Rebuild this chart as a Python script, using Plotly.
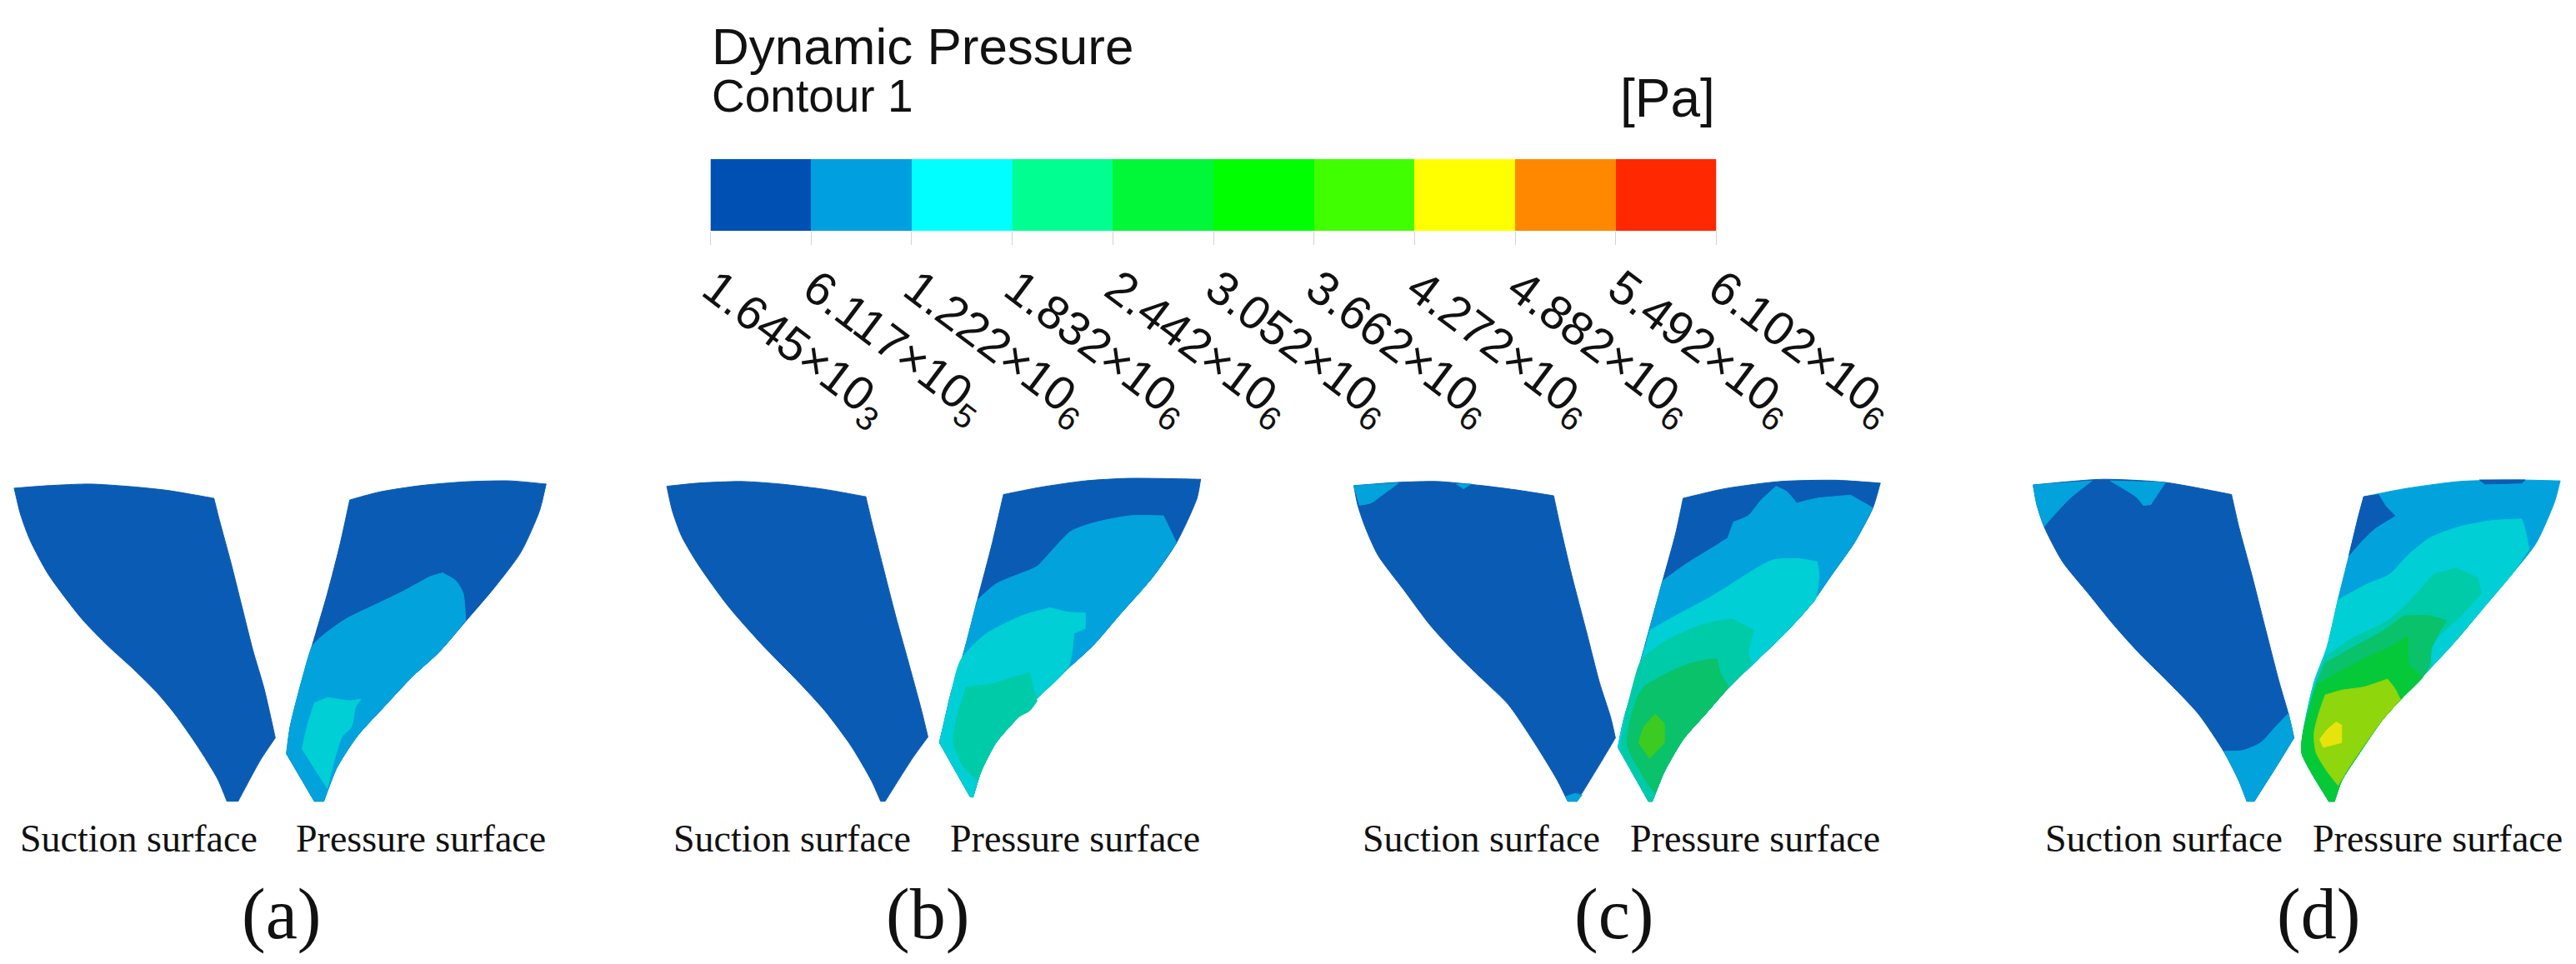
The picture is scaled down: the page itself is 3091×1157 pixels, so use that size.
import math
import plotly.graph_objects as go

W, H = 3091, 1157

# Legend
title_text = "Dynamic Pressure"
subtitle_text = "Contour 1"
unit_text = "[Pa]"
level_values = [1.645e3, 6.117e5, 1.222e6, 1.832e6, 2.442e6, 3.052e6, 3.662e6, 4.272e6, 4.882e6, 5.492e6, 6.102e6]
level_labels = ["1.645×10<sub>3</sub>", "6.117×10<sub>5</sub>", "1.222×10<sub>6</sub>", "1.832×10<sub>6</sub>",
                "2.442×10<sub>6</sub>", "3.052×10<sub>6</sub>", "3.662×10<sub>6</sub>", "4.272×10<sub>6</sub>",
                "4.882×10<sub>6</sub>", "5.492×10<sub>6</sub>", "6.102×10<sub>6</sub>"]
level_colors = ["#0050B4", "#00A0E0", "#00FFFF", "#00FF90", "#00F838", "#00FF00", "#40FF00", "#FFFF00", "#FF8800", "#FF2800"]

# Rendered contour shades
C_DARK = "#0A5BB4"
C_MID = "#02A3DC"
C_TEAL = "#00CFD6"
C_SEA = "#00CBA8"
C_GREEN1 = "#0AC26A"
C_GREEN2 = "#06C93A"
C_BRIGHT = "#3CCB20"
C_LIME = "#8FD60C"
C_YELLOW = "#E6E40C"

panel_labels = ["(a)", "(b)", "(c)", "(d)"]
suction_label = "Suction surface"
pressure_label = "Pressure surface"

# Outlines and contour bands, in each panel's own reading coordinates (0-1568)
a_suction = [(38,68),(130,60),(240,55),(340,62),(450,75),(575,100),(590,170),(620,300),(650,440),(680,580),(710,700),(740,855),(700,925),(640,1055),(610,1055),(585,985),(530,880),(470,780),(420,710),(360,640),(290,565),(220,480),(130,340),(80,230),(55,150)]
a_pressure = [(940,105),(1020,80),(1130,60),(1250,48),(1370,45),(1468,55),(1450,140),(1400,270),(1330,380),(1250,490),(1180,585),(1110,660),(1030,760),(960,850),(905,950),(870,1055),(845,1055),(770,905),(780,820),(810,680),(840,560),(880,400),(915,240)]
a_mid = [(840,565),(870,530),(930,480),(1000,440),(1080,395),(1160,345),(1190,335),(1225,360),(1245,400),(1252,485),(1180,585),(1110,660),(1030,760),(960,850),(905,950),(870,1055),(845,1055),(770,905),(780,820),(810,680)]
a_teal = [(845,745),(880,728),(940,738),(970,733),(955,760),(945,820),(920,850),(900,920),(880,1015),(850,960),(812,890),(825,820)]

b_suction = [(45,62),(130,52),(250,47),(350,55),(470,72),(580,95),(595,170),(625,310),(660,470),(700,640),(730,770),(747,852),(705,920),(632,1055),(620,1055),(595,990),(540,880),(470,770),(400,680),(300,560),(210,440),(130,310),(85,220),(60,140)]
b_pressure = [(950,88),(1050,65),(1170,45),(1290,37),(1480,40),(1470,100),(1415,240),(1350,350),(1260,470),(1190,565),(1120,640),(1050,720),(990,790),(930,870),(890,960),(868,1042),(860,1040),(778,870),(790,810),(810,710),(840,600),(880,420),(920,240)]
b_mid = [(880,420),(930,370),(1000,335),(1040,315),(1080,265),(1130,205),(1190,178),(1290,155),(1380,155),(1415,240),(1350,350),(1260,470),(1190,565),(1120,640),(1050,720),(990,790),(930,870),(890,960),(868,1042),(860,1040),(778,870),(790,810),(810,710),(840,600)]
b_teal = [(835,610),(900,530),(1000,470),(1075,445),(1120,458),(1170,462),(1170,510),(1140,525),(1125,630),(1050,720),(990,790),(930,870),(890,960),(868,1042),(860,1040),(778,870),(790,810),(810,710)]
b_sea = [(850,695),(920,685),(960,670),(1020,650),(1030,700),(1040,740),(1020,770),(990,790),(930,870),(890,960),(880,990),(845,950),(815,870),(825,790)]

c_suction = [(55,60),(170,50),(280,47),(400,60),(500,75),(592,92),(610,190),(640,340),(680,520),(715,680),(745,790),(758,855),(720,930),(655,1055),(630,1055),(600,985),(540,870),(470,750),(400,670),(330,590),(260,500),(190,390),(120,280),(85,190),(65,120)]
c_patch_left = [(55,60),(175,52),(125,95),(100,115),(70,122)]
c_patch_top = [(330,55),(370,55),(350,70)]
c_patch_tip = [(630,1055),(625,1040),(650,1030),(668,1035),(655,1055)]
c_pressure = [(940,100),(1050,70),(1200,47),(1350,43),(1470,52),(1450,130),(1400,240),(1340,340),(1280,440),(1210,530),(1130,620),(1060,700),(1000,780),(940,860),(890,960),(857,1055),(847,1055),(765,885),(780,800),(810,680),(850,510),(885,360),(920,210)]
c_mid = [(885,360),(950,305),(1020,255),(1060,225),(1075,175),(1115,155),(1150,105),(1190,62),(1220,80),(1245,115),(1300,100),(1390,90),(1450,130),(1400,240),(1340,340),(1280,440),(1210,530),(1130,620),(1060,700),(1000,780),(940,860),(890,960),(857,1055),(847,1055),(765,885),(780,800),(810,680),(850,510)]
c_teal = [(852,515),(920,470),(1000,420),(1050,385),(1110,340),(1180,295),(1250,290),(1300,300),(1305,340),(1295,420),(1280,440),(1210,530),(1130,620),(1060,700),(1000,780),(940,860),(890,960),(857,1055),(847,1055),(765,885),(780,800),(810,680)]
c_sea = [(828,610),(900,545),(1000,495),(1070,480),(1130,515),(1115,590),(1125,620),(1060,700),(1000,780),(940,860),(890,960),(857,1055),(847,1055),(770,895),(785,790),(805,690)]
c_green = [(840,690),(900,650),(960,620),(1030,605),(1040,650),(1062,695),(1000,780),(940,860),(890,960),(865,1030),(840,990),(790,880),(800,790),(820,720)]
c_bright = [(865,780),(890,810),(890,870),(850,920),(820,870),(835,820)]

d_suction = [(90,58),(180,48),(280,40),(450,50),(630,88),(650,190),(685,340),(720,500),(760,680),(785,780),(800,855),(755,940),(692,1055),(672,1055),(650,990),(610,900),(540,780),(450,670),(380,590),(310,500),(240,400),(170,300),(120,190),(100,120)]
d_patch_left = [(90,58),(250,45),(190,100),(130,175),(120,190),(100,120)]
d_patch_top = [(300,45),(450,50),(430,85),(410,120),(390,122),(370,95)]
d_patch_tip = [(610,897),(660,895),(710,870),(750,820),(785,778),(800,855),(755,940),(692,1055),(672,1055),(650,990)]
d_pressure = [(990,95),(1100,70),(1250,47),(1400,42),(1525,45),(1510,110),(1460,240),(1400,330),(1320,440),(1240,550),(1160,650),(1090,735),(1040,800),(980,900),(930,990),(910,1055),(895,1055),(822,905),(825,840),(855,680),(890,570),(920,420),(950,280),(975,160)]
d_dark_corner = [(990,95),(1030,88),(1050,125),(1075,155),(1020,195),(980,240),(950,280),(975,160)]
d_dark_top = [(1305,42),(1430,42),(1420,52),(1320,55)]
d_teal = [(920,420),(1000,370),(1060,340),(1110,280),(1170,225),(1250,190),(1340,170),(1420,165),(1430,200),(1440,260),(1400,330),(1320,440),(1240,550),(1160,650),(1090,735),(1040,800),(980,900),(930,990),(910,1055),(895,1055),(822,905),(825,840),(855,680),(890,570)]
d_sea = [(885,600),(960,540),(1050,490),(1110,430),(1180,340),(1240,320),(1300,350),(1310,400),(1255,470),(1190,540),(1170,590),(1175,625),(1160,650),(1090,735),(1040,800),(980,900),(930,990),(910,1055),(895,1055),(822,905),(825,840),(860,680)]
d_green1 = [(885,620),(960,570),(1040,520),(1100,470),(1170,470),(1215,485),(1195,525),(1175,570),(1170,620),(1150,665),(1090,735),(1040,800),(980,900),(930,990),(910,1055),(895,1055),(822,905),(825,840),(860,690)]
d_green2 = [(860,690),(920,650),(1000,600),(1060,570),(1110,535),(1110,620),(1150,665),(1090,735),(1040,800),(980,900),(930,990),(910,1055),(895,1055),(822,905),(825,840)]
d_lime = [(885,720),(930,705),(990,695),(1055,670),(1075,700),(1090,735),(1040,800),(990,880),(960,930),(920,1005),(890,960),(860,900),(855,840),(870,770)]
d_yellow = [(915,805),(930,815),(930,870),(880,885),(870,860),(890,830)]

panels = [
    [(a_suction, C_DARK), (a_pressure, C_DARK), (a_mid, C_MID), (a_teal, C_TEAL)],
    [(b_suction, C_DARK), (b_pressure, C_DARK), (b_mid, C_MID), (b_teal, C_TEAL), (b_sea, C_SEA)],
    [(c_suction, C_DARK), (c_patch_left, C_MID), (c_patch_top, C_MID), (c_patch_tip, C_MID),
     (c_pressure, C_DARK), (c_mid, C_MID), (c_teal, C_TEAL), (c_sea, C_SEA), (c_green, C_GREEN1), (c_bright, C_BRIGHT)],
    [(d_suction, C_DARK), (d_patch_left, C_MID), (d_patch_top, C_MID), (d_patch_tip, C_MID),
     (d_pressure, C_MID), (d_dark_corner, C_DARK), (d_dark_top, C_DARK), (d_teal, C_TEAL), (d_sea, C_SEA),
     (d_green1, C_GREEN1), (d_green2, C_GREEN2), (d_lime, C_LIME), (d_yellow, C_YELLOW)],
]

# Where each panel sits on the page: left, width, and the label positions in panel coordinates
panel_left = [0, 780, 1600, 2400]
panel_width = [700, 700, 700, 691]
panel_top, panel_height = 560, 597
suction_x = [372, 382, 398, 447]
pressure_x = [1132, 1143, 1133, 1192]
letter_x = [757, 747, 753, 866]


def keep_corners(pts, limit=32, gap=5):
    """Pin hard corners so that the spline only rounds the gentle curves."""
    out = []
    n = len(pts)
    for k, (x, y) in enumerate(pts):
        px, py = pts[k - 1]
        nx, ny = pts[(k + 1) % n]
        a = math.atan2(y - py, x - px)
        b = math.atan2(ny - y, nx - x)
        turn = abs(math.degrees((b - a + math.pi) % (2 * math.pi) - math.pi))
        if turn > limit:
            lp, ln = math.hypot(x - px, y - py), math.hypot(nx - x, ny - y)
            out.append((x + (px - x) * gap / lp, y + (py - y) * gap / lp))
            out.append((x, y))
            out.append((x + (nx - x) * gap / ln, y + (ny - y) * gap / ln))
        else:
            out.append((x, y))
    return out


fig = go.Figure()
layout = dict(
    width=W, height=H, margin=dict(l=0, r=0, t=0, b=0, autoexpand=False),
    paper_bgcolor="white", plot_bgcolor="rgba(0,0,0,0)", showlegend=False, template="none",
)
annotations = []
SERIF = "Liberation Serif"
SANS = "Liberation Sans"

for i, regions in enumerate(panels):
    n = i + 1
    xa, ya = ("x", "y") if n == 1 else (f"x{n}", f"y{n}")
    layout["xaxis" if n == 1 else f"xaxis{n}"] = dict(
        domain=[panel_left[i] / W, (panel_left[i] + panel_width[i]) / W],
        range=[0, 1568], visible=False, fixedrange=True, anchor=ya, automargin=False)
    layout["yaxis" if n == 1 else f"yaxis{n}"] = dict(
        domain=[1 - (panel_top + panel_height) / H, 1 - panel_top / H],
        range=[1568, 0], visible=False, fixedrange=True, anchor=xa, automargin=False)
    for pts, col in regions:
        path = keep_corners(pts)
        fig.add_trace(go.Scatter(
            x=[p[0] for p in path] + [path[0][0]], y=[p[1] for p in path] + [path[0][1]],
            mode="lines", fill="toself", fillcolor=col,
            line=dict(color=col, width=1, shape="spline", smoothing=0.7, simplify=False),
            hoverinfo="skip", xaxis=xa, yaxis=ya))
    for txt, x, y, size in [(suction_label, suction_x[i], 1172, 46), (pressure_label, pressure_x[i], 1172, 46),
                            (panel_labels[i], letter_x[i], 1410, 86)]:
        annotations.append(dict(text=txt, x=x, y=y, xref=xa, yref=ya, showarrow=False,
                                xanchor="center", yanchor="middle",
                                font=dict(family=SERIF, size=size, color="#111111")))

# Colour key
bar_left, bar_right, bar_top, bar_bottom = 852.5, 2059.5, 191, 277
fig.add_trace(go.Heatmap(
    x=level_values, y=[0, 1], z=[list(range(len(level_colors)))],
    zmin=-0.5, zmax=len(level_colors) - 0.5, showscale=False, hoverinfo="skip",
    colorscale=[[k / len(level_colors) if j == 0 else (k + 1) / len(level_colors), c]
                for k, c in enumerate(level_colors) for j in (0, 1)],
    xaxis="x5", yaxis="y5"))
layout["xaxis5"] = dict(
    domain=[bar_left / W, bar_right / W], range=[level_values[0], level_values[-1]],
    tickmode="array", tickvals=level_values, ticktext=level_labels, tickangle=37,
    ticks="outside", ticklen=16, tickwidth=1, tickcolor="#D4D4D4", showgrid=False, zeroline=False,
    showline=False, fixedrange=True, anchor="y5", automargin=False, ticklabelstandoff=-4, ticklabelshift=4,
    tickfont=dict(family=SANS, size=57, color="#111111"))
layout["yaxis5"] = dict(
    domain=[1 - bar_bottom / H, 1 - bar_top / H], range=[0, 1], visible=False, fixedrange=True, anchor="x5",
    automargin=False)

for txt, px, py, size, anchor in [(title_text, 852, 55, 62, "left"), (subtitle_text, 852, 115, 55, "left"),
                                  (unit_text, 2060, 118, 64, "right")]:
    annotations.append(dict(text=txt, x=px / W, y=1 - py / H, xref="paper", yref="paper", showarrow=False,
                            xanchor=anchor, yanchor="middle", font=dict(family=SANS, size=size, color="#111111")))

layout["annotations"] = annotations
fig.update_layout(**layout)
fig.write_html("out.html", config={"displayModeBar": False},
               post_script="document.body.style.margin='0';document.documentElement.style.overflow='hidden';")
